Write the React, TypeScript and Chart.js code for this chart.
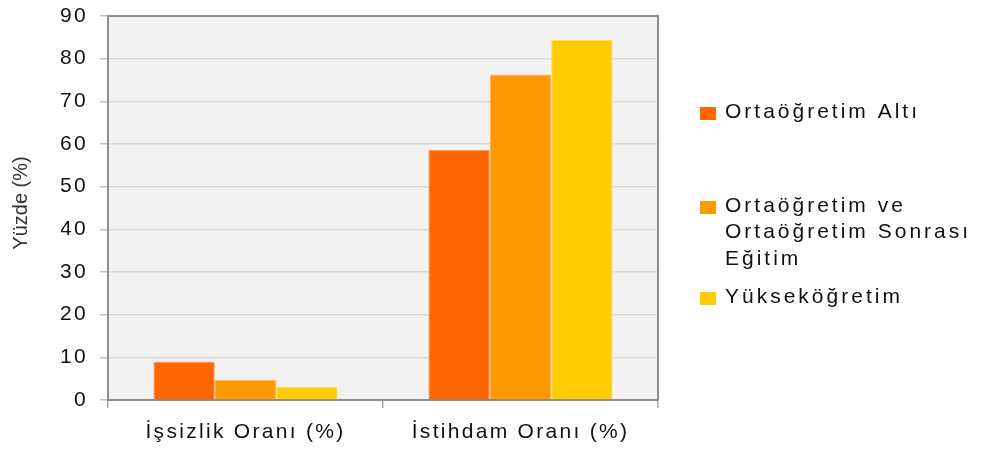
import React, { useEffect, useRef } from 'react';
import { Chart, registerables } from 'chart.js';

Chart.register(...registerables);

const categories = ['İşsizlik Oranı (%)', 'İstihdam Oranı (%)'];
const seriesNames = ['Ortaöğretim Altı', 'Ortaöğretim ve Ortaöğretim Sonrası Eğitim', 'Yükseköğretim'];
const legendLines = [['Ortaöğretim Altı'], ['Ortaöğretim ve', 'Ortaöğretim Sonrası', 'Eğitim'], ['Yükseköğretim']];
const ortaogretimAlti = [9.0, 58.6];
const ortaogretimSonrasi = [4.7, 76.3];
const yuksekogretim = [3.1, 84.4];
const yMin = 0;
const yMax = 90;
const yStep = 10;
const yTitle = 'Yüzde (%)';
const colors = ['#FF6600', '#FF9900', '#FFCC00'];
const borderColors = ['#FF9a5c', '#FFb84d', '#FFdd55'];

const FONT = '"Liberation Sans", Arial, sans-serif';

const spacingPlugin = {
  id: 'spacing',
  beforeUpdate(chart: any) { chart.ctx.letterSpacing = '2.3px'; },
  beforeLayout(chart: any) { chart.ctx.letterSpacing = '2.3px'; },
  beforeDraw(chart: any) {
    const ctx = chart.ctx;
    ctx.letterSpacing = '2.3px';
    const a = chart.chartArea;
    ctx.save();
    ctx.fillStyle = '#F2F2F2';
    ctx.fillRect(a.left, a.top, a.right - a.left, a.bottom - a.top);
    ctx.restore();
  },
  afterDatasetsDraw(chart: any) {
    const ctx = chart.ctx;
    const a = chart.chartArea;
    ctx.save();
    ctx.strokeStyle = '#8C8C8C';
    ctx.lineWidth = 2;
    ctx.beginPath();
    ctx.moveTo(a.left, a.top);
    ctx.lineTo(a.right, a.top);
    ctx.lineTo(a.right, a.bottom);
    ctx.stroke();
    ctx.restore();
  },
  afterDraw(chart: any) {
    const ctx = chart.ctx;
    ctx.save();
    // y-axis title
    ctx.letterSpacing = '0px';
    ctx.font = `20px ${FONT}`;
    ctx.fillStyle = '#333333';
    ctx.textAlign = 'center';
    ctx.textBaseline = 'middle';
    ctx.translate(21, 203);
    ctx.rotate(-Math.PI / 2);
    ctx.fillText(yTitle, 0, 0);
    ctx.restore();

    // legend
    ctx.save();
    ctx.letterSpacing = '3px';
    ctx.font = `21px ${FONT}`;
    ctx.fillStyle = '#111111';
    ctx.textAlign = 'left';
    ctx.textBaseline = 'middle';
    const firstLineY = [112, 206, 297];
    const lineH = 26.5;
    legendLines.forEach((lines, i) => {
      const y0 = firstLineY[i];
      ctx.fillStyle = colors[i];
      ctx.fillRect(700, y0 - 5, 16, 13);
      ctx.fillStyle = '#111111';
      lines.forEach((t, j) => ctx.fillText(t, 725, y0 + j * lineH));
    });
    ctx.restore();
  },
};

export default function App() {
  const ref = useRef<HTMLCanvasElement>(null);
  useEffect(() => {
    if (!ref.current) return;
    const datasets = [ortaogretimAlti, ortaogretimSonrasi, yuksekogretim].map((d, i) => ({
      label: seriesNames[i],
      data: d,
      backgroundColor: colors[i],
      borderColor: borderColors[i],
      borderWidth: 1,
      categoryPercentage: 0.67,
      barPercentage: 1.0,
    }));
    const chart = new Chart(ref.current, {
      type: 'bar',
      data: { labels: categories, datasets },
      options: {
        animation: false,
        responsive: false,
        devicePixelRatio: 1,
        layout: { padding: { left: 61, right: 324, top: 16, bottom: 6 } },
        plugins: { legend: { display: false }, tooltip: { enabled: false } },
        scales: {
          x: {
            afterFit: (s: any) => { s.height = 45; s.paddingLeft = 0; s.paddingRight = 0; },
            grid: { offset: true, drawOnChartArea: false, tickLength: 8, tickColor: '#A6A6A6', lineWidth: 1.5 },
            border: { color: '#8C8C8C', width: 2 },
            ticks: { font: { family: FONT, size: 21 }, color: '#111111', padding: 12 },
          },
          y: {
            min: yMin,
            max: yMax,
            afterFit: (s: any) => { s.width = 47; s.paddingTop = 0; s.paddingBottom = 0; },
            grid: { color: '#D9D9D9', lineWidth: 1.5, tickLength: 8, tickColor: '#BFBFBF' },
            border: { color: '#8C8C8C', width: 2 },
            ticks: { stepSize: yStep, font: { family: FONT, size: 21 }, color: '#111111', padding: 12 },
          },
        },
      },
      plugins: [spacingPlugin],
    });
    return () => chart.destroy();
  }, []);
  return (
    <div style={{ position: 'absolute', left: 0, top: 0, width: 982, height: 451 }}>
      <canvas ref={ref} width={982} height={451} />
    </div>
  );
}
